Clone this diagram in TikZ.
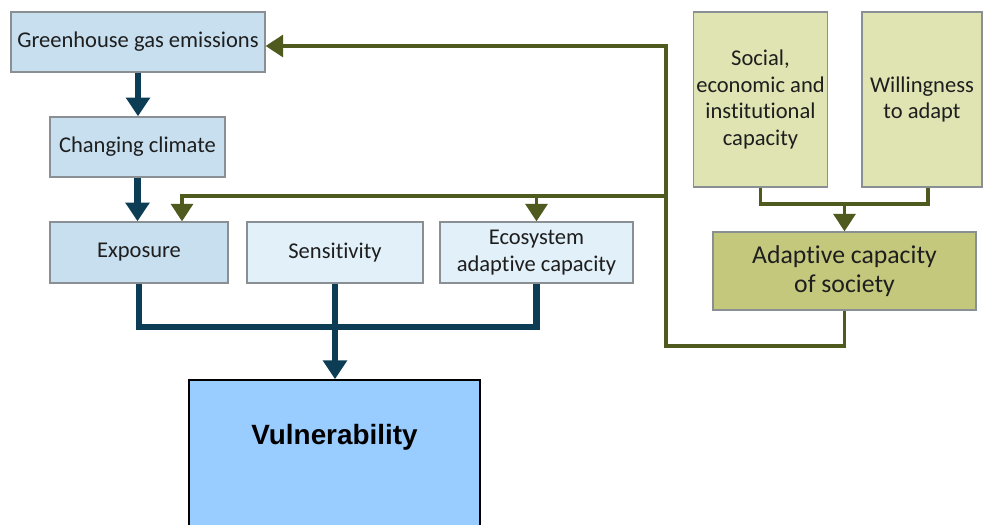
\documentclass[tikz,border=0pt]{standalone}
\usepackage{fontspec}
\setmainfont{Carlito}[Ligatures=NoCommon]
\newfontfamily\vulfont{Liberation Sans}
\usetikzlibrary{arrows.meta}

\definecolor{navyline}{HTML}{0D3C55}
\definecolor{oliveline}{HTML}{4E5A1E}
\definecolor{blueA}{HTML}{C7DFEF}
\definecolor{blueB}{HTML}{E2F0F9}
\definecolor{greenA}{HTML}{E0E3B2}
\definecolor{greenB}{HTML}{C4C87D}
\definecolor{vulblue}{HTML}{99CCFF}
\definecolor{boxedge}{HTML}{8A8F94}
\definecolor{txt}{HTML}{1E1E1E}

\tikzset{
  box/.style={draw=boxedge, line width=1.1pt, inner sep=2pt, align=center,
    text=txt, font=\fontsize{16.9}{19.8}\selectfont},
  bigbox/.style={box, font=\fontsize{19.3}{21.4}\selectfont},
  navyflow/.style={draw=navyline, line width=4.6pt,
    -{Triangle[width=17.5pt,length=14pt]}},
  navybus/.style={draw=navyline, line width=4.6pt},
  oliveflow/.style={draw=oliveline, line width=2.4pt,
    -{Triangle[width=16.5pt,length=13pt]}},
  olivebus/.style={draw=oliveline, line width=2.4pt},
}

\begin{document}
\begin{tikzpicture}[x=0.75pt, y=-0.75pt]
  \useasboundingbox (0,0) rectangle (983,525);
  \clip (0,0) rectangle (983,525);
  \fill[white] (0,0) rectangle (983,525);

  % left column: drivers and components of vulnerability
  \node[box, fill=blueA, minimum width=190.5pt, minimum height=45pt] (ghg) at (138,42) {Greenhouse gas emissions};
  \node[box, fill=blueA, minimum width=131.25pt, minimum height=45pt] (cc) at (137.5,147) {Changing climate};
  \node[box, fill=blueA, minimum width=133.5pt, minimum height=45.75pt] (exp) at (139,252.5) {Exposure};
  \node[box, fill=blueB, minimum width=132pt, minimum height=45.75pt] (sens) at (335,252.5) {Sensitivity};
  \node[box, fill=blueB, minimum width=144.75pt, minimum height=45.75pt] (eco) at (536.5,252.5) {Ecosystem\\adaptive capacity};

  % right column: societal adaptive capacity
  \node[box, fill=greenA, minimum width=98.25pt, minimum height=131.25pt] (soc) at (760.5,99.5) {Social,\\economic and\\institutional\\capacity};
  \node[box, fill=greenA, minimum width=90pt, minimum height=131.25pt] (will) at (922,99.5) {Willingness\\to adapt};
  \node[bigbox, fill=greenB, minimum width=197.25pt, minimum height=58.5pt] (adapt) at (844.5,271) {Adaptive capacity\\of society};

  % outcome
  \node[draw=black, line width=1.3pt, fill=vulblue, minimum width=218.25pt, minimum height=135pt] (vul) at (334.5,470) {};
  \node[font=\vulfont\bfseries\fontsize{20.9}{24}\selectfont, text=black] (vultext) at (334.5,437) {Vulnerability};

  % junction points
  \coordinate (bus) at (0,327);
  \coordinate (split) at (666,196);
  \coordinate (trunktop) at (666,46);
  \coordinate (loopbot) at (666,346);
  \coordinate (merge) at (844.5,204);

  % dark flow: emissions -> climate -> exposure -> vulnerability
  \draw[navyflow] (ghg.south) -- (ghg.south |- cc.north);
  \draw[navyflow] (cc.south) -- (cc.south |- exp.north);
  \draw[navybus] (exp.south) |- (bus -| eco.south) -- (eco.south);
  \draw[navyflow] (sens.south) -- (sens.south |- vul.north);

  % societal capacity feeds back to emissions, exposure and ecosystems
  \draw[olivebus] (soc.south) |- (merge) -| ([xshift=4.5pt]will.south);
  \draw[oliveflow] (merge) -- (adapt.north);
  \draw[oliveflow] (adapt.south) |- (loopbot) -- (trunktop) -- (ghg.east |- trunktop);
  \draw[oliveflow] (split) -| ([xshift=32.25pt]exp.north);
  \draw[oliveflow] (split -| eco.north) -- (eco.north);
\end{tikzpicture}
\end{document}
